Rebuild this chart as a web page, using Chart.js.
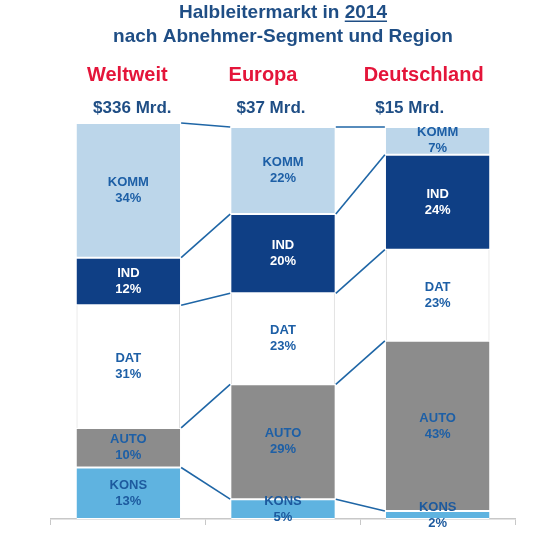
<!DOCTYPE html>
<html>
<head>
<meta charset="utf-8">
<script src="https://cdn.jsdelivr.net/npm/chart.js@4/dist/chart.umd.min.js"></script>
<style>
  html, body { margin: 0; padding: 0; background: #fff; }
  #wrap { width: 540px; height: 540px; }
</style>
</head>
<body>
<div id="wrap"><canvas id="marketChart" width="540" height="540"></canvas></div>
<script>
// Halbleitermarkt 2014 – Anteile je Abnehmer-Segment (in %)
const regions = ['Weltweit', 'Europa', 'Deutschland'];
const marketSizes = ['$336 Mrd.', '$37 Mrd.', '$15 Mrd.'];
const segments = ['KONS', 'AUTO', 'DAT', 'IND', 'KOMM'];
const kons = [13, 5, 2];
const auto = [10, 29, 43];
const dat = [31, 23, 23];
const ind = [12, 20, 24];
const komm = [34, 22, 7];

const FONT = 'Liberation Sans, Arial, sans-serif';
const seriesValues = [kons, auto, dat, ind, komm];
const fills = ['#5fb3e0', '#8c8c8c', '#ffffff', '#0f3f85', '#bcd6ea'];
const textColors = ['#1d5a9e', '#1d5fa6', '#1d5fa6', '#ffffff', '#1d5fa6'];

const datasets = segments.map((name, s) => ({
  label: name,
  data: seriesValues[s],
  backgroundColor: fills[s],
  borderColor: name === 'DAT' ? '#d6d6d6' : '#ffffff',
  borderWidth: name === 'DAT' ? { left: 1, right: 1, top: 0, bottom: 0 } : { top: 1, bottom: 1, left: 0, right: 0 },
  borderSkipped: false,
  barPercentage: 0.67,
  categoryPercentage: 1,
}));

// lines linking the segment borders of neighbouring bars
const connectorPlugin = {
  id: 'connectors',
  afterDatasetsDraw(chart) {
    const { ctx } = chart;
    const y = chart.scales.y;
    const metas = chart.data.datasets.map((d, i) => chart.getDatasetMeta(i));
    ctx.save();
    ctx.strokeStyle = '#1f66a6';
    ctx.lineWidth = 1.6;
    for (let i = 0; i < regions.length - 1; i++) {
      const a = metas[0].data[i];
      const b = metas[0].data[i + 1];
      const x1 = a.x + a.width / 2 + 1;
      const x2 = b.x - b.width / 2 - 1;
      let cumA = 0, cumB = 0;
      for (let s = 0; s < segments.length; s++) {
        cumA += seriesValues[s][i];
        cumB += seriesValues[s][i + 1];
        ctx.beginPath();
        ctx.moveTo(x1, y.getPixelForValue(cumA));
        ctx.lineTo(x2, y.getPixelForValue(cumB));
        ctx.stroke();
      }
    }
    ctx.restore();
  },
};

// segment name + percentage in each box, region headers above the bars
const labelPlugin = {
  id: 'segmentLabels',
  afterDatasetsDraw(chart) {
    const { ctx } = chart;
    ctx.save();
    ctx.textAlign = 'center';
    ctx.textBaseline = 'middle';
    ctx.font = 'bold 13px ' + FONT;
    chart.data.datasets.forEach((ds, s) => {
      chart.getDatasetMeta(s).data.forEach((el, i) => {
        const cy = (el.y + el.base) / 2;
        ctx.fillStyle = textColors[s];
        ctx.fillText(ds.label, el.x, cy - 8);
        ctx.fillText(ds.data[i] + '%', el.x, cy + 8);
      });
    });

    const nameShift = [-1, -20, -14];
    const sizeShift = [4, -12, -28];
    chart.getDatasetMeta(0).data.forEach((el, i) => {
      ctx.font = 'bold 20px ' + FONT;
      ctx.fillStyle = '#e4153a';
      ctx.fillText(regions[i], el.x + nameShift[i], 75);
      ctx.font = 'bold 17px ' + FONT;
      ctx.fillStyle = '#1f4e85';
      ctx.fillText(marketSizes[i], el.x + sizeShift[i], 108);
    });
    ctx.restore();
  },
  afterDraw(chart) {
    // underline the year in the first title line
    const { ctx } = chart;
    const tb = chart.titleBlock;
    ctx.save();
    ctx.font = 'bold 19px ' + FONT;
    const full = ctx.measureText('Halbleitermarkt in 2014').width;
    const pre = ctx.measureText('Halbleitermarkt in ').width;
    const yr = ctx.measureText('2014').width;
    const cx = (tb.left + tb.right) / 2;
    const x0 = cx - full / 2 + pre;
    const yLine = tb.top + 12.35 + 9;
    ctx.strokeStyle = '#1f4e85';
    ctx.lineWidth = 1.5;
    ctx.beginPath();
    ctx.moveTo(x0, yLine);
    ctx.lineTo(x0 + yr, yLine);
    ctx.stroke();
    ctx.restore();
  },
};

new Chart(document.getElementById('marketChart'), {
  type: 'bar',
  data: { labels: regions, datasets },
  options: {
    responsive: false,
    animation: false,
    layout: { padding: { left: 51, right: 25, top: 0, bottom: 15 } },
    plugins: {
      legend: { display: false },
      tooltip: { enabled: false },
      title: {
        display: true,
        text: ['Halbleitermarkt in 2014', 'nach Abnehmer-Segment und Region'],
        color: '#1f4e85',
        font: { family: FONT, size: 19, weight: 'bold', lineHeight: 1.3 },
        padding: { top: 0, bottom: 73.6 },
      },
    },
    scales: {
      x: {
        stacked: true,
        grid: { display: true, drawOnChartArea: false, tickLength: 6, color: '#c8c8c8' },
        border: { display: true, color: '#c8c8c8', width: 1.5 },
        ticks: { display: false },
      },
      y: { stacked: true, display: false, min: 0, max: 100 },
    },
  },
  plugins: [connectorPlugin, labelPlugin],
});
</script>
</body>
</html>
